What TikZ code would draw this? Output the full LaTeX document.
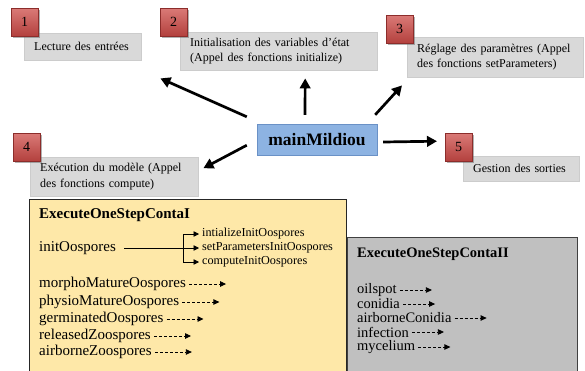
\documentclass[tikz,border=0pt]{standalone}
\usepackage{fontspec}
\setmainfont{Liberation Serif}
\usetikzlibrary{arrows.meta,shadows}
\definecolor{numtop}{HTML}{DA7A77}
\definecolor{numbot}{HTML}{B3403D}
\definecolor{numline}{HTML}{8C2D2B}
\definecolor{calloutgray}{HTML}{D9D9D9}
\definecolor{mainblue}{HTML}{8DB3E2}
\definecolor{mainline}{HTML}{6A91C6}
\definecolor{contaIfill}{HTML}{FEE8A8}
\definecolor{contaIIfill}{HTML}{C0C0C0}
\tikzset{
  num/.style={draw=numline, top color=numtop, bottom color=numbot, anchor=north west,
    minimum width=27pt, minimum height=28pt, inner sep=0pt, font=\fontsize{14}{16}\selectfont,
    drop shadow={shadow xshift=1.5pt, shadow yshift=-1.5pt, fill=black!60}},
  callout/.style={fill=calloutgray, draw=black!20, anchor=north west, inner xsep=10pt,
    inner ysep=0pt, align=left, font=\fontsize{12}{15.5}\selectfont},
  mainbox/.style={fill=mainblue, draw=mainline, minimum width=120pt, minimum height=31pt,
    inner sep=0pt, font=\fontsize{17.5}{19}\selectfont\bfseries},
  bigarrow/.style={line width=2.7pt, -{Triangle[length=10pt,width=10.5pt]}},
  panel/.style={anchor=north west, inner sep=0pt},
  itemI/.style={anchor=west, inner sep=0pt, font=\fontsize{15}{17}\selectfont},
  itemII/.style={anchor=west, inner sep=0pt, font=\fontsize{14.5}{16}\selectfont},
  fanitem/.style={anchor=west, inner sep=0pt, font=\fontsize{12.2}{14}\selectfont},
  fanarrow/.style={line width=0.8pt, -{Triangle[length=5.5pt,width=5.5pt]}},
  dasharrow/.style={line width=0.8pt, dash pattern=on 3pt off 2pt, -{Triangle[length=6pt,width=5.5pt]}}
}
\begin{document}
\begin{tikzpicture}[x=1pt,y=-1pt]
  \useasboundingbox (0,0) rectangle (585,370);
  \clip (0,0) rectangle (585,370);
  % steps
  \node[callout, minimum width=117pt, minimum height=27pt, text width=97pt] (in1) at (24,33) {Lecture des entrées};
  \node[callout, minimum width=197pt, minimum height=38pt, text width=177pt] (in2) at (180,32) {Initialisation des variables d’état\\(Appel des fonctions initialize)};
  \node[callout, minimum width=176pt, minimum height=40pt, text width=156pt] (in3) at (407,37) {Réglage des paramètres (Appel\\des fonctions setParameters)};
  \node[callout, minimum width=168pt, minimum height=39pt, text width=148pt] (in4) at (30,157) {Exécution du modèle (Appel\\des fonctions compute)};
  \node[callout, minimum width=116pt, minimum height=25pt, text width=96pt] (in5) at (463,156) {Gestion des sorties};
  \node[num] (n1) at (11,8) {1};
  \node[num] (n2) at (160,8) {2};
  \node[num] (n3) at (386,15) {3};
  \node[num] (n4) at (13,133) {4};
  \node[num] (n5) at (445,133) {5};
  % main
  \node[mainbox] (main) at (317,139.5) {mainMildiou};
  \draw[bigarrow] ([shift={(-10,-7)}]main.north west) -- ([shift={(19,18)}]in1.south east);
  \draw[bigarrow] ([shift={(-12,-9)}]main.north) -- ([shift={(26.5,8)}]in2.south);
  \draw[bigarrow] ([shift={(-2,-9)}]main.north east) -- ([shift={(-5,8)}]in3.south west);
  \draw[bigarrow] ([shift={(-10,-10)}]main.south west) -- ([shift={(5,-8.5)}]in4.east);
  \draw[bigarrow] ([shift={(6,2.5)}]main.east) -- ([shift={(-8,-6)}]n5.west);
  % ExecuteOneStepContaI
  \node[panel, fill=contaIfill, draw=black!85, minimum width=317pt, minimum height=173pt] (contaI) at (29,199) {};
  \node[itemI, font=\fontsize{15}{17}\selectfont\bfseries] (headI) at (39,215) {ExecuteOneStepContaI};
  \node[itemI] (initO) at (39,248) {initOospores};
  \node[fanitem] (fan1) at (202,234) {intializeInitOospores};
  \node[fanitem] (fan2) at (202,248) {setParametersInitOospores};
  \node[fanitem] (fan3) at (202,262) {computeInitOospores};
  \coordinate (fork) at (183,248);
  \draw[line width=0.8pt] ([xshift=8pt]initO.east) -- (fork);
  \draw[fanarrow, shorten >=3pt] (fork) |- (fan1.west);
  \draw[fanarrow, shorten >=3pt] (fork) -- (fan2.west);
  \draw[fanarrow, shorten >=3pt] (fork) |- (fan3.west);
  \foreach \name/\txt/\y in {morpho/morphoMatureOospores/284, physio/physioMatureOospores/302,
      germ/germinatedOospores/319, released/releasedZoospores/336, airZoo/airborneZoospores/352} {
    \node[itemI] (\name) at (39,\y) {\txt};
    \coordinate (\name-end) at ([xshift=40pt]\name.east);
    \draw[dasharrow] ([xshift=3pt]\name.east) -- (\name-end);
  }
  % ExecuteOneStepContaII
  \node[panel, fill=contaIIfill, draw=black!75, line width=0.9pt, minimum width=230pt, minimum height=135pt] (contaII) at (347,237) {};
  \node[itemII, font=\fontsize{14.5}{16}\selectfont\bfseries] (headII) at (357,254) {ExecuteOneStepContaII};
  \foreach \name/\txt/\y in {oilspot/oilspot/290, conidia/conidia/304, airCon/airborneConidia/318,
      infection/infection/332, mycelium/mycelium/347} {
    \node[itemII] (\name) at (357,\y) {\txt};
    \coordinate (\name-end) at ([xshift=35pt]\name.east);
    \draw[dasharrow] ([xshift=3pt]\name.east) -- (\name-end);
  }
\end{tikzpicture}
\end{document}
